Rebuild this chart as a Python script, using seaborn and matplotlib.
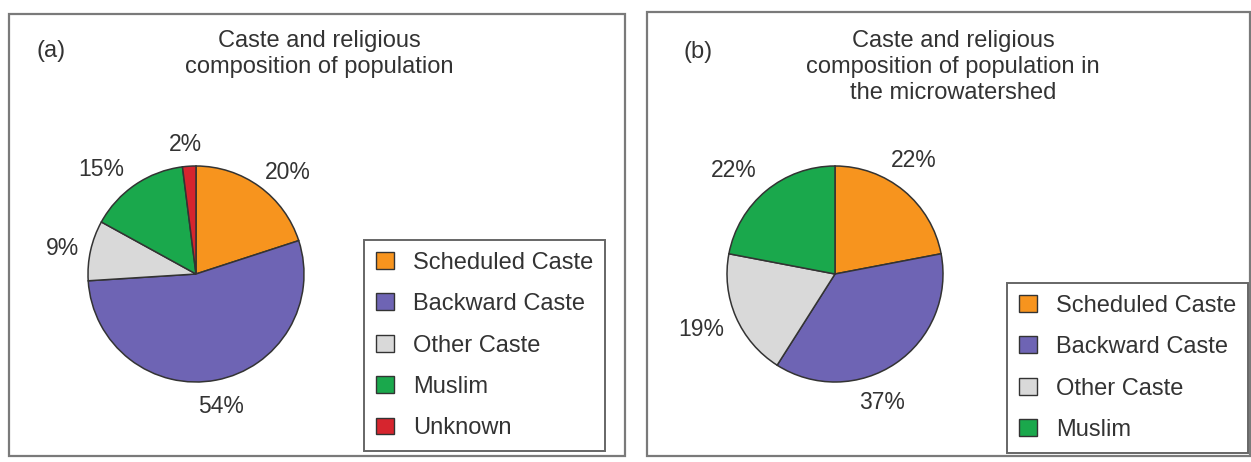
import matplotlib
matplotlib.use("Agg")
import numpy as np
import matplotlib.pyplot as plt
import seaborn as sns
from matplotlib.patches import Patch, Rectangle

# ---- data ----
categories_a = ["Scheduled Caste", "Backward Caste", "Other Caste", "Muslim", "Unknown"]
values_a = [20, 54, 9, 15, 2]
categories_b = ["Scheduled Caste", "Backward Caste", "Other Caste", "Muslim"]
values_b = [22, 37, 19, 22]
title_a = "Caste and religious\ncomposition of population"
title_b = "Caste and religious\ncomposition of population in\nthe microwatershed"
panel_labels = ["(a)", "(b)"]
color_list = ["#F7941E", "#6E64B4", "#D9D9D9", "#1AA84C", "#D6252E"]

# ---- label placement style (radial distance, angular nudge in degrees) ----
label_dist_a = [1.27, 1.25, 1.26, 1.31, 1.20]
label_nudge_a = [-6, 0, 2, 8, 1]
label_dist_b = [1.28, 1.27, 1.34, 1.34]
label_nudge_b = [5, -14, -1, 5]

sns.set_theme(style="white")
plt.rcParams['font.family'] = ['Liberation Sans', 'DejaVu Sans']

palette = dict(zip(categories_a, sns.color_palette(color_list)))
TXT = '#333333'
EDGE = '#333333'
FS = 17

W, H = 1251, 462
fig = plt.figure(figsize=(W / 100, H / 100), dpi=100)
fig.patch.set_facecolor('white')


def px_rect(x0, y0, x1, y1):
    return (x0 / W, 1 - y1 / H, (x1 - x0) / W, (y1 - y0) / H)


def draw_panel(cats, vals, center, radius, frame, legend_tl, title, title_xy,
               label, label_xy, dists, nudges):
    l, b, w, h = px_rect(*frame)
    fig.patches.append(Rectangle((l, b), w, h, transform=fig.transFigure,
                                 fill=False, edgecolor='#7a7a7a', lw=1.6))
    half = 170
    cx, cy = center
    ax = fig.add_axes(px_rect(cx - half, cy - half, cx + half, cy + half))
    colors = [palette[c] for c in cats]
    wedges, _, autotexts = ax.pie(
        vals, colors=colors, startangle=90, counterclock=False,
        autopct=lambda p: f"{p:.0f}%", pctdistance=1.27,
        wedgeprops=dict(edgecolor=EDGE, linewidth=1.1),
        textprops=dict(fontsize=16.5, color=TXT))
    for wdg, t, d, n in zip(wedges, autotexts, dists, nudges):
        ang = np.deg2rad((wdg.theta1 + wdg.theta2) / 2 + n)
        t.set_position((d * np.cos(ang), d * np.sin(ang)))
    lim = half / radius
    ax.set_xlim(-lim, lim)
    ax.set_ylim(-lim, lim)
    ax.set_aspect('equal')
    ax.axis('off')

    fig.text(title_xy[0] / W, 1 - title_xy[1] / H, title, ha='center', va='center',
             fontsize=FS, color=TXT, linespacing=1.22)
    fig.text(label_xy[0] / W, 1 - label_xy[1] / H, label, ha='center', va='center',
             fontsize=FS, color=TXT)

    handles = [Patch(facecolor=palette[c], edgecolor=EDGE, linewidth=1.0) for c in cats]
    leg = fig.legend(handles, cats, loc='upper left',
                     bbox_to_anchor=(legend_tl[0] / W, 1 - legend_tl[1] / H),
                     bbox_transform=fig.transFigure, borderaxespad=0,
                     fontsize=FS, frameon=True, fancybox=False, shadow=False,
                     handlelength=0.76, handleheight=0.72, handletextpad=0.8,
                     labelspacing=0.82, borderpad=0.5, labelcolor=TXT)
    fr = leg.get_frame()
    fr.set_edgecolor('#666666')
    fr.set_linewidth(1.4)
    fr.set_alpha(1)


draw_panel(categories_a, values_a, (196, 274), 108, (9, 14, 625, 456), (364, 240),
           title_a, (319, 54), panel_labels[0], (51, 51), label_dist_a, label_nudge_a)
draw_panel(categories_b, values_b, (835, 274), 108, (647, 12, 1250, 456), (1007, 283),
           title_b, (953, 67), panel_labels[1], (698, 52), label_dist_b, label_nudge_b)

fig.savefig("out.png", dpi=100)
